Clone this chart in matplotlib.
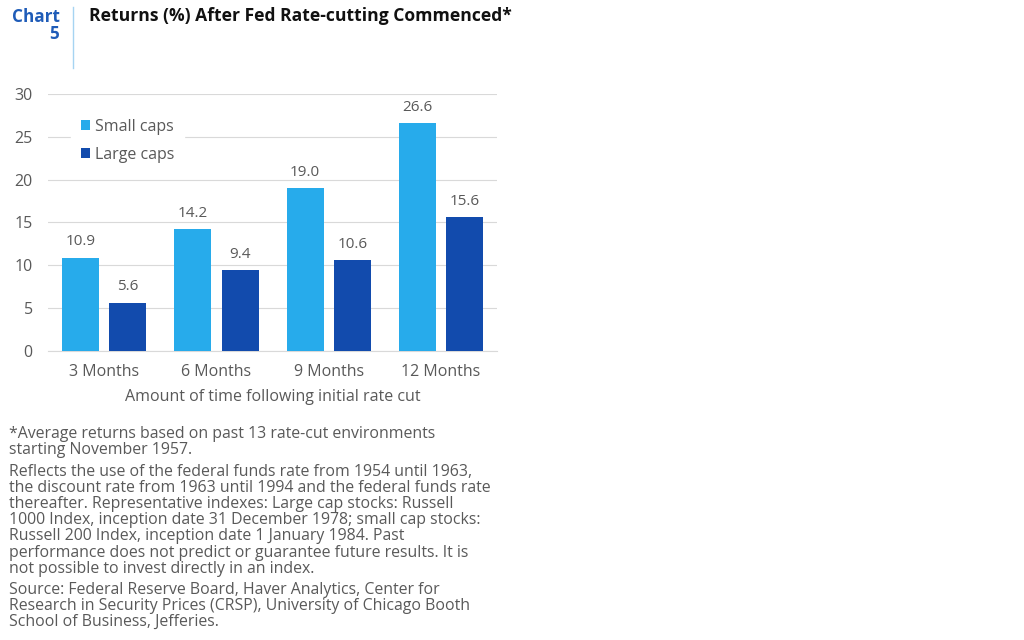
import matplotlib.pyplot as plt
import numpy as np

plt.rcParams['font.family'] = ['Open Sans', 'DejaVu Sans']

# Data
periods = ['3 Months', '6 Months', '9 Months', '12 Months']
small_caps = [10.9, 14.2, 19.0, 26.6]
large_caps = [5.6, 9.4, 10.6, 15.6]
series_names = ['Small caps', 'Large caps']

light_blue = '#27ABEB'
dark_blue = '#124BAD'
grey = '#595959'

fig = plt.figure(figsize=(10.24, 6.4), dpi=100)
ax = fig.add_axes([0.047, 0.4516, 0.4385, 0.4016])

x = np.arange(len(periods))
w = 0.33
b1 = ax.bar(x - 0.21, small_caps, w, color=light_blue, label=series_names[0], zorder=3)
b2 = ax.bar(x + 0.21, large_caps, w, color=dark_blue, label=series_names[1], zorder=3)

for bars, vals in [(b1, small_caps), (b2, large_caps)]:
    for bar, v in zip(bars, vals):
        ax.text(bar.get_x() + bar.get_width() / 2, v + 1.0, f'{v:.1f}',
                ha='center', va='bottom', fontsize=11, color=grey)

ax.set_xlim(-0.5, 3.5)
ax.set_ylim(0, 30)
ax.set_yticks(range(0, 31, 5))
ax.set_xticks(x)
ax.set_xticklabels(periods)
ax.yaxis.grid(True, color='#D9D9D9', linewidth=0.8, zorder=0)
ax.set_axisbelow(True)
for s in ['top', 'right', 'left']:
    ax.spines[s].set_visible(False)
ax.spines['bottom'].set_color('#D9D9D9')
ax.tick_params(axis='both', length=0, labelsize=11.5, labelcolor=grey)
ax.tick_params(axis='y', pad=11)
ax.tick_params(axis='x', pad=9.5)
ax.set_xlabel('Amount of time following initial rate cut', fontsize=11.5,
              color=grey, labelpad=6.5)

leg = ax.legend(loc='upper left', bbox_to_anchor=(0.033, 0.972), frameon=True,
                fontsize=11.5, handlelength=0.6, handleheight=0.6,
                handletextpad=0.3, labelspacing=0.75, borderpad=0.6,
                fancybox=False, edgecolor='white', framealpha=1)
for t in leg.get_texts():
    t.set_color(grey)

# Header
fig.text(0.058, 0.9734, 'Chart', ha='right', va='center', fontsize=12.3,
         fontweight='bold', color='#1F5CB8')
fig.text(0.058, 0.947, '5', ha='right', va='center', fontsize=12.3,
         fontweight='bold', color='#1F5CB8')
fig.add_artist(plt.Line2D([0.0713, 0.0713], [0.893, 0.989], color='#A6D4F2',
                          linewidth=1, transform=fig.transFigure))
fig.text(0.087, 0.975, 'Returns (%) After Fed Rate-cutting Commenced*',
         ha='left', va='center', fontsize=12.6, fontweight='bold', color='#111111')

# Footnotes
note1 = ('*Average returns based on past 13 rate-cut environments\n'
         'starting November 1957.')
note2 = ('Reflects the use of the federal funds rate from 1954 until 1963,\n'
         'the discount rate from 1963 until 1994 and the federal funds rate\n'
         'thereafter. Representative indexes: Large cap stocks: Russell\n'
         '1000 Index, inception date 31 December 1978; small cap stocks:\n'
         'Russell 200 Index, inception date 1 January 1984. Past\n'
         'performance does not predict or guarantee future results. It is\n'
         'not possible to invest directly in an index.')
note3 = ('Source: Federal Reserve Board, Haver Analytics, Center for\n'
         'Research in Security Prices (CRSP), University of Chicago Booth\n'
         'School of Business, Jefferies.')
fig.text(0.009, 0.334, note1, ha='left', va='top', fontsize=11.4, color=grey,
         linespacing=1.01)
fig.text(0.009, 0.275, note2, ha='left', va='top', fontsize=11.4, color=grey,
         linespacing=1.01)
fig.text(0.009, 0.091, note3, ha='left', va='top', fontsize=11.4, color=grey,
         linespacing=1.01)

fig.savefig('out.png', dpi=100)
